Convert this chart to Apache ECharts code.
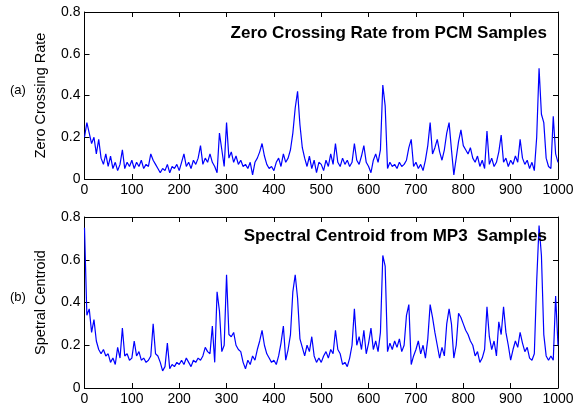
<!DOCTYPE html>
<html>
<head>
<meta charset="utf-8">
<script src="https://cdn.jsdelivr.net/npm/echarts@6/dist/echarts.min.js"></script>
<style>
html,body{margin:0;padding:0;background:#fff;}
#c{width:579px;height:410px;}
</style>
</head>
<body>
<div id="c"></div>
<script>
// sample index step between stored readings
var sampleStep = 5;
var xTicks = [0,100,200,300,400,500,600,700,800,900,1000];
var yTicks = [0,0.2,0.4,0.6,0.8];

// (a) Zero Crossing Rate from PCM samples (samples 0..1000, every 5th)
var zcrValues = [
0.20,0.27,0.22,0.17,0.20,0.12,0.19,0.10,0.07,0.12,
0.06,0.11,0.05,0.08,0.04,0.07,0.14,0.05,0.08,0.06,
0.09,0.05,0.08,0.06,0.09,0.05,0.07,0.06,0.12,0.09,
0.07,0.05,0.03,0.05,0.04,0.07,0.03,0.06,0.05,0.07,
0.04,0.08,0.12,0.06,0.08,0.05,0.09,0.07,0.10,0.16,
0.07,0.10,0.08,0.12,0.08,0.06,0.03,0.22,0.14,0.06,
0.27,0.10,0.13,0.08,0.11,0.07,0.09,0.06,0.07,0.05,
0.08,0.02,0.08,0.10,0.13,0.17,0.11,0.07,0.05,0.06,
0.04,0.08,0.10,0.06,0.12,0.08,0.10,0.14,0.22,0.34,
0.42,0.26,0.15,0.10,0.06,0.11,0.05,0.09,0.03,0.08,
0.07,0.04,0.09,0.06,0.12,0.07,0.17,0.08,0.06,0.10,
0.07,0.09,0.06,0.08,0.17,0.09,0.07,0.11,0.16,0.08,
0.06,0.03,0.09,0.12,0.08,0.14,0.45,0.35,0.05,0.08,
0.06,0.07,0.05,0.08,0.06,0.07,0.09,0.15,0.19,0.06,
0.08,0.05,0.07,0.04,0.09,0.16,0.27,0.12,0.15,0.19,
0.13,0.09,0.14,0.22,0.27,0.14,0.02,0.10,0.18,0.235,
0.16,0.14,0.12,0.15,0.10,0.08,0.11,0.06,0.09,0.05,
0.23,0.07,0.10,0.06,0.08,0.13,0.21,0.08,0.10,0.06,
0.09,0.07,0.11,0.08,0.19,0.10,0.07,0.09,0.05,0.08,
0.04,0.20,0.53,0.31,0.27,0.10,0.06,0.05,0.30,0.12,
0.08
];

// (b) Spectral Centroid from MP3 samples (samples 0..1000, every 5th)
var centroidValues = [
0.75,0.34,0.37,0.26,0.32,0.22,0.18,0.16,0.18,0.15,
0.16,0.12,0.14,0.11,0.19,0.14,0.28,0.15,0.16,0.13,
0.14,0.22,0.15,0.17,0.13,0.14,0.12,0.13,0.15,0.30,
0.16,0.15,0.12,0.08,0.10,0.21,0.09,0.11,0.10,0.12,
0.11,0.13,0.11,0.14,0.12,0.10,0.13,0.12,0.14,0.13,
0.15,0.19,0.17,0.16,0.29,0.12,0.45,0.36,0.17,0.20,
0.53,0.25,0.24,0.26,0.20,0.18,0.17,0.12,0.09,0.13,
0.11,0.15,0.13,0.18,0.22,0.27,0.20,0.16,0.14,0.12,
0.13,0.11,0.15,0.21,0.29,0.13,0.18,0.25,0.45,0.53,
0.42,0.23,0.19,0.15,0.20,0.17,0.24,0.15,0.12,0.14,
0.12,0.15,0.17,0.14,0.18,0.16,0.27,0.18,0.16,0.11,
0.12,0.10,0.14,0.20,0.37,0.20,0.24,0.18,0.27,0.16,
0.21,0.28,0.18,0.22,0.17,0.26,0.62,0.57,0.17,0.21,
0.18,0.22,0.19,0.23,0.17,0.20,0.34,0.39,0.11,0.15,
0.18,0.22,0.16,0.20,0.14,0.23,0.39,0.33,0.26,0.20,
0.14,0.19,0.15,0.30,0.37,0.30,0.14,0.20,0.35,0.33,
0.30,0.27,0.25,0.22,0.20,0.15,0.17,0.12,0.14,0.18,
0.38,0.24,0.18,0.22,0.15,0.31,0.25,0.38,0.26,0.20,
0.13,0.18,0.22,0.19,0.26,0.21,0.17,0.19,0.14,0.13,
0.16,0.50,0.76,0.62,0.25,0.15,0.13,0.15,0.13,0.43,
0.20
];

var titles = ['Zero Crossing Rate from PCM Samples', 'Spectral Centroid from MP3  Samples'];
var yNames = ['Zero Crossing Rate', 'Spetral Centroid'];
var panelTags = ['(a)', '(b)'];

function toPairs(arr){ return arr.map(function(v,i){ return [i*sampleStep, v]; }); }

var font = 'Arial, "Liberation Sans", sans-serif';
var grids = [
  {left:84.5, right:21, top:12, height:167},
  {left:84.5, right:21, top:217, height:171}
];

var xAxes = [], yAxes = [];
[0,1].forEach(function(g){
  var common = {type:'value', gridIndex:g, min:xTicks[0], max:xTicks[xTicks.length-1], interval:100,
    splitLine:{show:false}, axisLine:{show:true, onZero:false, lineStyle:{color:'#000', width:1}},
    axisTick:{show:true, inside:true, length:5, lineStyle:{color:'#000'}}};
  xAxes.push(Object.assign({}, common, {position:'bottom',
    axisLabel:{show:true, color:'#000', fontFamily:font, fontSize:14, margin:4,
      formatter:function(v){ return String(v); }}}));
  xAxes.push(Object.assign({}, common, {position:'top', axisLabel:{show:false}}));
  var yc = {type:'value', gridIndex:g, min:yTicks[0], max:yTicks[yTicks.length-1], interval:0.2,
    splitLine:{show:false}, axisLine:{show:true, onZero:false, lineStyle:{color:'#000', width:1}},
    axisTick:{show:true, inside:true, length:5, lineStyle:{color:'#000'}}};
  yAxes.push(Object.assign({}, yc, {position:'left',
    name: yNames[g], nameLocation:'middle', nameGap:36, nameRotate:90, nameMoveOverlap:false,
    nameTextStyle:{color:'#000', fontFamily:font, fontSize:14.5},
    axisLabel:{show:true, color:'#000', fontFamily:font, fontSize:14, margin:4,
      formatter:function(v){ return String(Math.round(v*10)/10); }}}));
  yAxes.push(Object.assign({}, yc, {position:'right', axisLabel:{show:false}}));
});

var chart = echarts.init(document.getElementById('c'), null, {renderer:'canvas'});
chart.setOption({
  animation:false,
  backgroundColor:'#fff',
  grid: grids,
  xAxis: xAxes,
  yAxis: yAxes,
  title: [
    {text:titles[0], right:27, top:20, textStyle:{color:'#000', fontFamily:font, fontWeight:'bold', fontSize:17}},
    {text:titles[1], right:27, top:223, textStyle:{color:'#000', fontFamily:font, fontWeight:'bold', fontSize:17}}
  ],
  graphic: [
    {type:'text', left:10, top:84, style:{text:panelTags[0], fill:'#000', font:'13px ' + font}},
    {type:'text', left:10, top:291, style:{text:panelTags[1], fill:'#000', font:'13px ' + font}}
  ],
  series: [
    {type:'line', xAxisIndex:0, yAxisIndex:0, data: toPairs(zcrValues), showSymbol:false,
      lineStyle:{color:'#0000ff', width:1.2}, itemStyle:{color:'#0000ff'}},
    {type:'line', xAxisIndex:2, yAxisIndex:2, data: toPairs(centroidValues), showSymbol:false,
      lineStyle:{color:'#0000ff', width:1.2}, itemStyle:{color:'#0000ff'}}
  ]
});
</script>
</body>
</html>
